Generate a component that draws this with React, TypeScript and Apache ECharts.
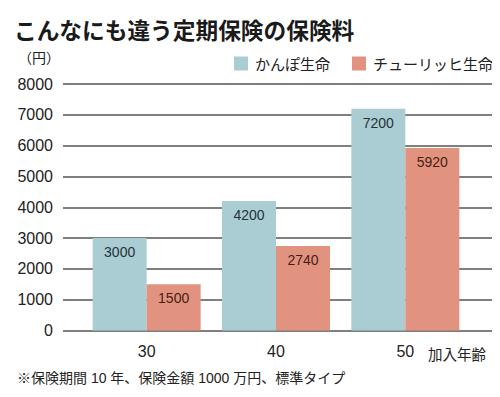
import React, { useEffect, useRef } from "react";
import * as echarts from "echarts";

const categories = ["30", "40", "50"];
const kampoValues = [3000, 4200, 7200];
const zurichValues = [1500, 2740, 5920];
const seriesNames = ["かんぽ生命", "チューリッヒ生命"];
const yMin = 0;
const yMax = 8000;
const yInterval = 1000;

const FONT = "'Liberation Sans', 'Noto Sans CJK JP', sans-serif";
const CJK = "'Noto Sans CJK JP', sans-serif";

export default function App() {
  const ref = useRef<HTMLDivElement>(null);
  useEffect(() => {
    if (!ref.current) return;
    const chart = echarts.init(ref.current, undefined, { renderer: "svg" });
    chart.setOption({
      animation: false,
      backgroundColor: "#ffffff",
      title: {
        text: "こんなにも違う定期保険の保険料",
        left: 9,
        top: 13,
        textStyle: { fontFamily: CJK, fontSize: 22.7, fontWeight: "bold", color: "#1a1a1a" },
      },
      legend: {
        data: seriesNames,
        right: 2,
        top: 51,
        itemWidth: 14,
        itemHeight: 14,
        itemGap: 22,
        icon: "rect",
        textStyle: { fontFamily: CJK, fontSize: 15, color: "#222", padding: [0, 0, 0, 2] },
      },
      graphic: [
        {
          type: "text",
          left: 18,
          top: 50,
          style: { text: "（円）", font: `14px ${CJK}`, fill: "#222" },
        },
        {
          type: "text",
          right: 14,
          top: 346,
          style: { text: "加入年齢", font: `14.5px ${CJK}`, fill: "#222" },
        },
        {
          type: "text",
          left: 17,
          top: 371,
          style: { text: "※保険期間 10 年、保険金額 1000 万円、標準タイプ", font: `14px ${FONT}`, fill: "#222" },
        },
      ],
      grid: [
        { left: 63, right: 7, top: 84, bottom: 66.5 },
        { left: 82, right: 30, top: 84, bottom: 66.5 },
      ],
      xAxis: [
        { type: "category", gridIndex: 0, data: categories, show: false },
        {
          type: "category",
          gridIndex: 1,
          data: categories,
          axisLine: { show: false },
          axisTick: { show: false },
          axisLabel: { fontFamily: FONT, fontSize: 16, color: "#222", margin: 13 },
        },
      ],
      yAxis: [
        {
          type: "value",
          gridIndex: 0,
          min: yMin,
          max: yMax,
          interval: yInterval,
          axisLine: { show: false },
          axisTick: { show: false },
          axisLabel: {
            fontFamily: FONT,
            fontSize: 16,
            color: "#222",
            margin: 10,
            formatter: (v: number) => String(v),
          },
          splitLine: { lineStyle: { color: "#555", width: 1.5 } },
        },
        {
          type: "value",
          gridIndex: 1,
          min: yMin,
          max: yMax,
          interval: yInterval,
          show: false,
          splitLine: { show: false },
        },
      ],
      series: [
        {
          name: seriesNames[0],
          type: "bar",
          xAxisIndex: 1,
          yAxisIndex: 1,
          data: kampoValues,
          barWidth: 54,
          barGap: "0%",
          itemStyle: { color: "#a9cdd3" },
          label: {
            show: true,
            position: "insideTop",
            distance: 7,
            fontFamily: FONT,
            fontSize: 14,
            color: "#253238",
          },
        },
        {
          name: seriesNames[1],
          type: "bar",
          xAxisIndex: 1,
          yAxisIndex: 1,
          data: zurichValues,
          barWidth: 54,
          barGap: "0%",
          itemStyle: { color: "#e1937f" },
          label: {
            show: true,
            position: "insideTop",
            distance: 7,
            fontFamily: FONT,
            fontSize: 14,
            color: "#4a1d14",
          },
        },
      ],
    });
    return () => chart.dispose();
  }, []);
  return <div ref={ref} style={{ width: 500, height: 397, margin: -8 }} />;
}
